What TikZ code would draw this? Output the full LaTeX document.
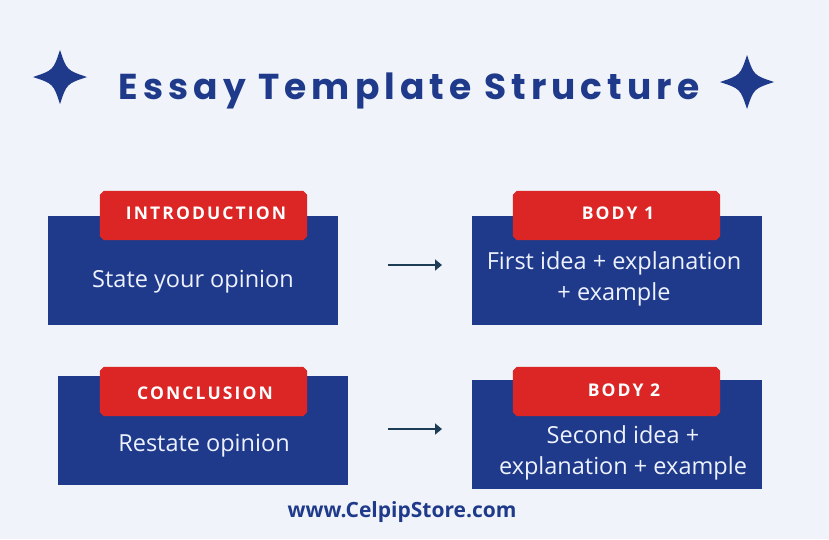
\documentclass[tikz,border=0pt]{standalone}
\usepackage{fontspec}
\setmainfont{Open Sans}
\newfontfamily\titlefont[LetterSpace=14]{Poppins}
\newfontfamily\tabfont[LetterSpace=12]{Open Sans}
\usetikzlibrary{calc,arrows.meta}
\definecolor{bg}{HTML}{F0F4FA}
\definecolor{navy}{HTML}{1F3A8A}
\definecolor{tabred}{HTML}{DC2626}
\definecolor{lighttext}{HTML}{EEF2FF}
\definecolor{arrowc}{HTML}{1C3D55}
\newcommand{\tabshape}[1]{%
  \fill[tabred] ($(#1.north west)+(4,0)$) -- ($(#1.north east)+(-4,0)$) -- ($(#1.north east)+(0,4)$)
    -- ($(#1.south east)+(0,-4)$) -- ($(#1.south east)+(-4,0)$) -- ($(#1.south west)+(4,0)$)
    -- ($(#1.south west)+(0,-4)$) -- ($(#1.north west)+(0,4)$) -- cycle;}
\begin{document}
\begin{tikzpicture}[x=1pt,y=-1pt,
  bluebox/.style={draw=none,fill=navy,minimum width=290pt,minimum height=109pt,inner sep=0pt},
  tabbox/.style={draw=none,minimum width=207pt,minimum height=49pt,inner sep=0pt},
  tabtext/.style={text=white,inner sep=0pt,font=\tabfont\bfseries\fontsize{17.5}{20}\selectfont},
  bodytext/.style={text=lighttext,font=\fontsize{23.5}{31}\selectfont,align=center,inner sep=0pt},
  flow/.style={draw=arrowc,line width=2.6pt,-{Triangle[length=7pt,width=11pt]}}]
\useasboundingbox[fill=bg] (0,0) rectangle (829,539);
% stars
\foreach \cx/\cy/\r in {60/77/27, 747/82/27}{
  \fill[navy] (\cx,\cy-\r) .. controls (\cx+0.25*\r,\cy-0.25*\r) .. (\cx+\r,\cy)
     .. controls (\cx+0.25*\r,\cy+0.25*\r) .. (\cx,\cy+\r)
     .. controls (\cx-0.25*\r,\cy+0.25*\r) .. (\cx-\r,\cy)
     .. controls (\cx-0.25*\r,\cy-0.25*\r) .. (\cx,\cy-\r) -- cycle;
}
\node[text=navy,font=\titlefont\bfseries\fontsize{36}{40}\selectfont] (title) at (409,91) {Essay Template Structure};
% boxes
\node[bluebox] (intro) at (193,270.5) {};
\node[tabbox] (introtab) at (203.5,215.5) {};
\tabshape{introtab}
\node[tabtext] (introlbl) at (206,213) {INTRODUCTION};
\node[bodytext] (introtxt) at (193,282) {State your opinion};

\node[bluebox] (body1) at (617,270.5) {};
\node[tabbox] (body1tab) at (616.5,215.5) {};
\tabshape{body1tab}
\node[tabtext] (body1lbl) at (618,213) {BODY 1};
\node[bodytext] (body1txt) at (614,279) {First idea + explanation\\+ example};

\node[bluebox] (concl) at (203,430.5) {};
\node[tabbox] (concltab) at (203.5,391.5) {};
\tabshape{concltab}
\node[tabtext] (concllbl) at (205,393) {CONCLUSION};
\node[bodytext] (concltxt) at (204,446) {Restate opinion};

\node[bluebox] (body2) at (617,434.5) {};
\node[tabbox] (body2tab) at (616.5,391.5) {};
\tabshape{body2tab}
\node[tabtext] (body2lbl) at (624,390) {BODY 2};
\node[bodytext] (body2txt) at (623,453) {Second idea +\\explanation + example};

\coordinate (a1s) at (388,265);
\coordinate (a1e) at (442,265);
\coordinate (a2s) at (388,429);
\coordinate (a2e) at (442,429);
\draw[flow] (a1s) -- (a1e);
\draw[flow] (a2s) -- (a2e);

\node[text=navy,font=\bfseries\fontsize{21}{24}\selectfont] (footer) at (402,512) {www.CelpipStore.com};
\end{tikzpicture}
\end{document}
